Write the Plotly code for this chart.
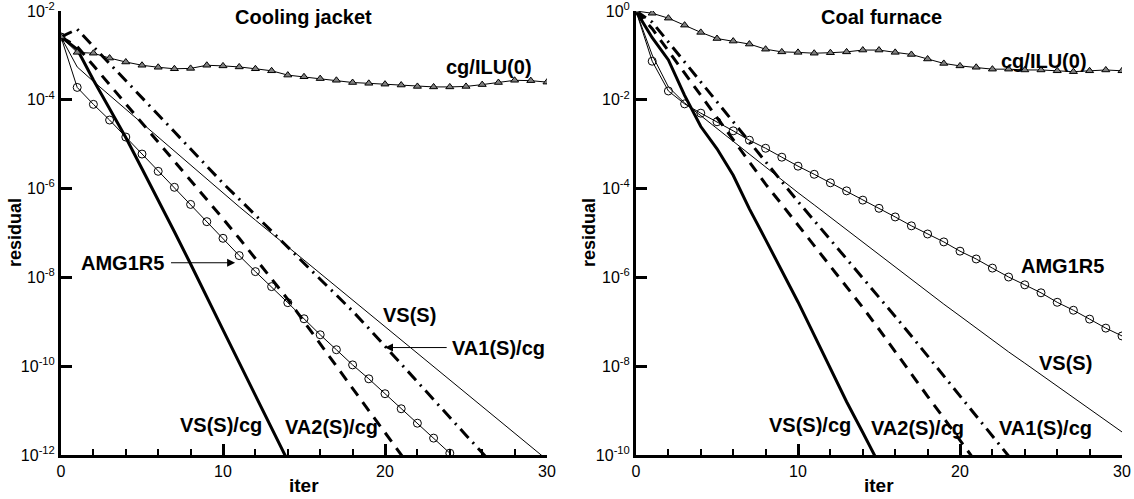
import plotly.graph_objects as go

# ---------------- data ----------------
iters = list(range(0, 31))

# Cooling jacket (left)
cj_cg_ilu = [2.6e-3, 1.17e-3, 1.12e-3, 8.7e-4, 7.1e-4, 6.0e-4, 5.4e-4, 5.0e-4, 5.1e-4, 6.0e-4,
             5.8e-4, 5.5e-4, 5.0e-4, 4.5e-4, 3.6e-4, 3.3e-4, 3.0e-4, 2.75e-4, 2.45e-4, 2.35e-4,
             2.25e-4, 2.15e-4, 2.0e-4, 1.95e-4, 1.95e-4, 2.0e-4, 2.2e-4, 2.45e-4, 2.75e-4, 2.7e-4, 2.5e-4]
cj_amg = [2.6e-3, 1.9e-4, 7.9e-5, 3.5e-5, 1.45e-5, 6.0e-6, 2.45e-6, 1.07e-6, 4.4e-7, 1.8e-7,
          7.6e-8, 3.1e-8, 1.35e-8, 6.2e-9, 2.7e-9, 1.17e-9, 5.1e-10, 2.35e-10, 1.07e-10, 5.2e-11,
          2.4e-11, 1.1e-11, 5.2e-12, 2.4e-12, 1.1e-12]
cj_vs = [2.6e-3, 5.5e-4, 2.6e-4, 1.26e-4, 6.2e-5, 2.95e-5, 1.41e-5, 6.9e-6, 3.3e-6, 1.58e-6,
         7.8e-7, 3.9e-7, 1.95e-7, 9.8e-8, 4.9e-8, 2.45e-8, 1.23e-8, 6.2e-9, 3.1e-9, 1.55e-9,
         7.8e-10, 3.9e-10, 1.95e-10, 9.8e-11, 4.9e-11, 2.45e-11, 1.23e-11, 6.2e-12, 3.1e-12, 1.55e-12, 7.8e-13]
cj_vs_cg = [2.6e-3, 1.38e-3, 2.8e-4, 6.3e-5, 1.41e-5, 2.8e-6, 5.6e-7, 1.07e-7, 2.0e-8, 3.5e-9,
            6.6e-10, 1.2e-10, 2.2e-11, 4.0e-12, 7.4e-13]
cj_va2_cg = [2.6e-3, 1.58e-3, 5.9e-4, 2.2e-4, 8.1e-5, 3.0e-5, 1.12e-5, 4.2e-6, 1.55e-6, 5.8e-7,
             2.1e-7, 7.6e-8, 2.7e-8, 9.3e-9, 3.2e-9, 1.0e-9, 3.2e-10, 1.0e-10, 3.2e-11, 1.0e-11,
             3.2e-12, 1.0e-12, 3.2e-13]
cj_va1_cg = [2.6e-3, 3.9e-3, 1.58e-3, 6.6e-4, 2.7e-4, 1.12e-4, 4.6e-5, 1.9e-5, 7.8e-6, 3.2e-6,
             1.32e-6, 5.8e-7, 2.5e-7, 1.1e-7, 4.8e-8, 2.1e-8, 9.1e-9, 4.0e-9, 1.74e-9, 7.1e-10,
             2.8e-10, 1.12e-10, 4.5e-11, 1.78e-11, 7.1e-12, 2.8e-12, 1.12e-12, 4.5e-13]

# Coal furnace (right)
cf_cg_ilu = [1.0, 0.89, 0.69, 0.48, 0.33, 0.24, 0.21, 0.18, 0.138, 0.12,
             0.117, 0.112, 0.115, 0.12, 0.132, 0.132, 0.117, 0.105, 0.083, 0.066,
             0.058, 0.054, 0.049, 0.049, 0.047, 0.047, 0.045, 0.043, 0.045, 0.047, 0.045]
cf_amg = [1.0, 0.074, 0.0158, 8.1e-3, 5.0e-3, 3.2e-3, 2.0e-3, 1.23e-3, 8.1e-4, 5.1e-4,
          3.2e-4, 2.1e-4, 1.35e-4, 8.9e-5, 5.5e-5, 3.6e-5, 2.3e-5, 1.45e-5, 9.5e-6, 6.3e-6,
          3.9e-6, 2.6e-6, 1.62e-6, 1.02e-6, 6.8e-7, 4.5e-7, 2.75e-7, 1.82e-7, 1.15e-7, 7.2e-8, 4.8e-8]
cf_vs = [1.0, 0.102, 0.0195, 8.5e-3, 4.4e-3, 2.25e-3, 1.15e-3, 5.9e-4, 3.0e-4, 1.55e-4,
         8.1e-5, 4.3e-5, 2.25e-5, 1.17e-5, 6.2e-6, 3.2e-6, 1.7e-6, 8.9e-7, 4.7e-7, 2.5e-7,
         1.35e-7, 7.2e-8, 3.9e-8, 2.1e-8, 1.17e-8, 6.5e-9, 3.5e-9, 1.95e-9, 1.07e-9, 6.0e-10, 3.3e-10]
cf_vs_cg = [1.0, 0.25, 0.079, 0.0126, 2.5e-3, 7.9e-4, 2.0e-4, 3.5e-5, 7.1e-6, 1.41e-6,
            2.8e-7, 5.0e-8, 8.9e-9, 1.58e-9, 3.2e-10, 6.3e-11]
cf_va2_cg = [1.0, 0.40, 0.126, 0.040, 0.0126, 4.0e-3, 1.26e-3, 4.0e-4, 1.26e-4, 4.4e-5,
             1.51e-5, 5.2e-6, 1.82e-6, 6.3e-7, 2.1e-7, 6.8e-8, 2.1e-8, 6.8e-9, 2.1e-9, 6.8e-10,
             2.1e-10, 6.8e-11]
cf_va1_cg = [1.0, 0.56, 0.20, 0.071, 0.025, 8.9e-3, 3.2e-3, 1.12e-3, 4.0e-4, 1.41e-4,
             5.1e-5, 1.9e-5, 7.1e-6, 2.6e-6, 9.8e-7, 3.6e-7, 1.32e-7, 4.8e-8, 1.7e-8, 6.0e-9,
             2.1e-9, 7.6e-10, 2.7e-10, 9.5e-11]

left_yticks = [1e-12, 1e-10, 1e-8, 1e-6, 1e-4, 1e-2]
left_ytext = ["10<sup>-12</sup>", "10<sup>-10</sup>", "10<sup>-8</sup>", "10<sup>-6</sup>",
              "10<sup>-4</sup>", "10<sup>-2</sup>"]
right_yticks = [1e-10, 1e-8, 1e-6, 1e-4, 1e-2, 1e0]
right_ytext = ["10<sup>-10</sup>", "10<sup>-8</sup>", "10<sup>-6</sup>", "10<sup>-4</sup>",
               "10<sup>-2</sup>", "10<sup>0</sup>"]
xticks = [0, 10, 20, 30]

# ---------------- figure ----------------
FONT = "Liberation Sans, Arial, Helvetica, sans-serif"
fig = go.Figure()


def add_series(xa, ya, yvals, kind):
    x = iters[:len(yvals)]
    if kind == "tri":
        fig.add_trace(go.Scatter(x=x, y=yvals, mode="lines+markers", xaxis=xa, yaxis=ya,
                                 line=dict(color="black", width=1),
                                 marker=dict(symbol="triangle-up", size=7, color="#808080",
                                             line=dict(color="black", width=1))))
    elif kind == "circ":
        fig.add_trace(go.Scatter(x=x, y=yvals, mode="lines+markers", xaxis=xa, yaxis=ya,
                                 line=dict(color="black", width=1),
                                 marker=dict(symbol="circle-open", size=8, color="black",
                                             line=dict(color="black", width=1))))
    elif kind == "thin":
        fig.add_trace(go.Scatter(x=x, y=yvals, mode="lines", xaxis=xa, yaxis=ya,
                                 line=dict(color="black", width=1)))
    elif kind == "thick":
        fig.add_trace(go.Scatter(x=x, y=yvals, mode="lines", xaxis=xa, yaxis=ya,
                                 line=dict(color="black", width=3)))
    elif kind == "dash":
        fig.add_trace(go.Scatter(x=x, y=yvals, mode="lines", xaxis=xa, yaxis=ya,
                                 line=dict(color="black", width=3, dash="11px,8px")))
    elif kind == "dashdot":
        fig.add_trace(go.Scatter(x=x, y=yvals, mode="lines", xaxis=xa, yaxis=ya,
                                 line=dict(color="black", width=3, dash="12px,6px,2px,6px")))


for xa, ya, data in [("x", "y", [(cj_vs, "thin"), (cj_va1_cg, "dashdot"), (cj_va2_cg, "dash"),
                                  (cj_vs_cg, "thick"), (cj_amg, "circ"), (cj_cg_ilu, "tri")]),
                     ("x2", "y2", [(cf_vs, "thin"), (cf_va1_cg, "dashdot"), (cf_va2_cg, "dash"),
                                   (cf_vs_cg, "thick"), (cf_amg, "circ"), (cf_cg_ilu, "tri")])]:
    for vals, kind in data:
        add_series(xa, ya, vals, kind)

W, H = 1134, 499


def fx(px):
    return px / W


def fy(py):
    return 1 - py / H


ydom = [fy(455), fy(11)]

xcommon = dict(range=[0, 30], showline=True, linewidth=3, linecolor="black", mirror=False,
               showgrid=False, zeroline=False, ticks="inside", ticklen=11, tickwidth=3,
               tickcolor="black", tickvals=xticks, automargin=False, ticklabeloverflow="allow",
               tickfont=dict(family=FONT, size=16, color="black"),
               minor=dict(dtick=2, ticks="inside", ticklen=6, tickwidth=1.5, tickcolor="black",
                          showgrid=False))
ycommon = dict(type="log", showline=True, linewidth=3, linecolor="black", mirror=False,
               showgrid=False, zeroline=False, ticks="inside", ticklen=11, tickwidth=3,
               tickcolor="black", automargin=False, ticklabeloverflow="allow",
               tickfont=dict(family=FONT, size=16, color="black"))

fig.update_layout(
    template="none",
    width=W, height=H, margin=dict(l=0, r=0, t=0, b=0, autoexpand=False),
    paper_bgcolor="white", plot_bgcolor="white", showlegend=False,
    font=dict(family=FONT, color="black"),
    xaxis=dict(domain=[fx(61), fx(547)], anchor="y", **xcommon),
    xaxis2=dict(domain=[fx(636), fx(1122)], anchor="y2", **xcommon),
    yaxis=dict(domain=ydom, anchor="x", range=[-12, -2], tickvals=left_yticks,
               ticktext=left_ytext, **ycommon),
    yaxis2=dict(domain=ydom, anchor="x2", range=[-10, 0], tickvals=right_yticks,
                ticktext=right_ytext, **ycommon),
)

LBL = dict(family=FONT, size=20, color="black")


def label(text, xref, yref, x, y, xanchor="center"):
    fig.add_annotation(text="<b>%s</b>" % text, xref=xref, yref=yref, x=x, y=y,
                       showarrow=False, font=LBL, xanchor=xanchor, yanchor="middle")


def plabel(text, px, py, angle=0, size=20):
    fig.add_annotation(text="<b>%s</b>" % text, xref="paper", yref="paper", x=fx(px),
                       y=fy(py), showarrow=False, font=dict(family=FONT, size=size, color="black"),
                       textangle=angle, xanchor="center", yanchor="middle")


plabel("Cooling jacket", 303, 17)
plabel("Coal furnace", 881, 17)
plabel("iter", 304, 485, 0, 19)
plabel("iter", 879, 485, 0, 19)
plabel("residual", 15, 233, -90, 18)
plabel("residual", 589, 233, -90, 18)

# curve labels, left
label("cg/ILU(0)", "x", "y", 26.4, -3.26)
label("AMG1R5", "x", "y", 6.5, -7.67, "right")
label("VS(S)", "x", "y", 21.5, -8.84)
label("VA1(S)/cg", "x", "y", 24.0, -9.58, "left")
label("VA2(S)/cg", "x", "y", 16.7, -11.37)
label("VS(S)/cg", "x", "y", 9.9, -11.32)

# arrows, left
fig.add_annotation(xref="x", yref="y", x=10.75, y=-7.67, axref="x", ayref="y", ax=6.7, ay=-7.67,
                   text="", showarrow=True, arrowhead=2, arrowsize=1.6, arrowwidth=1,
                   arrowcolor="black")
fig.add_annotation(xref="x", yref="y", x=20.0, y=-9.58, axref="x", ayref="y", ax=23.9, ay=-9.58,
                   text="", showarrow=True, arrowhead=2, arrowsize=1.6, arrowwidth=1,
                   arrowcolor="black")

# curve labels, right
label("cg/ILU(0)", "x2", "y2", 25.2, -1.13)
label("AMG1R5", "x2", "y2", 26.3, -5.74)
label("VS(S)", "x2", "y2", 26.5, -7.93)
label("VA1(S)/cg", "x2", "y2", 25.25, -9.39)
label("VA2(S)/cg", "x2", "y2", 17.4, -9.39)
label("VS(S)/cg", "x2", "y2", 10.75, -9.32)

# remove the default 8px page margin so the figure fills the window exactly
fig.write_html("out.html", config={"displayModeBar": False},
               post_script="document.body.style.margin='0';document.body.style.overflow='hidden';")
